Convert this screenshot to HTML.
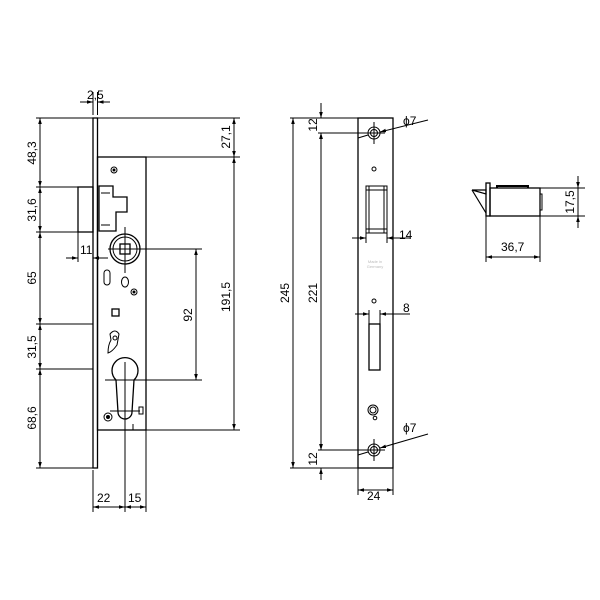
<!DOCTYPE html>
<html><head><style>body{margin:0;background:#fff}svg{display:block}</style></head><body>
<svg width="600" height="600" viewBox="0 0 600 600" xmlns="http://www.w3.org/2000/svg" font-family="Liberation Sans, sans-serif" font-size="12">
<defs>
<marker id="a" viewBox="0 0 10 10" refX="10" refY="5" markerWidth="6" markerHeight="6" orient="auto-start-reverse"><path d="M0,2 L10,5 L0,8z" fill="#000"/></marker>
</defs>
<g stroke="#000" fill="none" stroke-width="1">
<rect x="93" y="118" width="4.5" height="350" stroke-width="1.3"/>
<rect x="97.5" y="157" width="48.5" height="273" stroke-width="1.3"/>
<rect x="78" y="187" width="15" height="45" stroke-width="1.3"/>
<path d="M99,186 H113 V197 H127 V212 H116 V231 H99 Z" stroke-width="1.3"/>
<path d="M101,193 H110 M101,225 H110" />
<circle cx="114" cy="170" r="3"/><circle cx="114" cy="170" r="1" fill="#000"/>
<circle cx="125" cy="249" r="15" stroke-width="1.3"/><circle cx="125" cy="249" r="12"/>
<rect x="120" y="244" width="10" height="10" stroke-width="1.3"/>
<path d="M125,227 V273 M108,249 H202"/>
<rect x="104" y="270" width="6" height="15" rx="3"/>
<ellipse cx="125" cy="282" rx="3.5" ry="5"/>
<circle cx="134" cy="292" r="3"/><circle cx="134" cy="292" r="1" fill="#000"/>
<rect x="112" y="309" width="7" height="7" stroke-width="1.3"/>
<path d="M110,334 Q115,328 119,334 L117,345 Q112,352 108,353 Q108,345 111,340 Z"/>
<circle cx="115" cy="338" r="2"/>
<path d="M116,380 A13,13 0 1 1 134,380 L132,412 A7,7 0 0 1 118,412 Z" stroke-width="1.3"/>
<path d="M105,380 H202 M125,362 V512 M110,411 H140"/>
<rect x="139" y="407" width="4" height="7"/>
<circle cx="108" cy="417" r="4"/><circle cx="108" cy="417" r="1.5" fill="#000"/>
<path d="M133,424 V430"/>
<path d="M36,118 H240 M146,157 H240 M146,430 H240 M36,187 H93 M36,232 H93 M36,324 H93 M36,369 H93 M36,468 H93"/>
<path d="M93,115 V92 M97.5,115 V92 M93,470 V512 M146,430 V512"/>
<path d="M78,232 V262"/>
<g marker-start="url(#a)" marker-end="url(#a)">
<path d="M40,118 V187"/><path d="M40,187 V232"/><path d="M40,232 V324"/><path d="M40,324 V369"/><path d="M40,369 V468"/>
<path d="M234,118 V157"/><path d="M234,157 V430"/>
<path d="M196,249 V380"/>
<path d="M93,507 H125"/><path d="M125,507 H146"/>
</g>
<path d="M80,102 H93" marker-end="url(#a)"/><path d="M110,102 H97.5" marker-end="url(#a)"/>
<path d="M66,258 H78" marker-end="url(#a)"/><path d="M108,258 H93" marker-end="url(#a)"/>
<rect x="358" y="118" width="35" height="350" stroke-width="1.3"/>
<circle cx="374" cy="133" r="6"/><circle cx="374" cy="133" r="3.5"/>
<circle cx="374" cy="450" r="6"/><circle cx="374" cy="450" r="3.5"/>
<path d="M374,122 V144 M363,133 H385 M374,439 V461 M363,450 H385"/>
<circle cx="374" cy="169" r="2"/>
<rect x="366" y="186" width="21" height="47"/><path d="M369,186 V233 M384,186 V233 M366,190 H387 M366,229 H387"/>
<circle cx="374" cy="301" r="2"/>
<rect x="369" y="324" width="11" height="46" stroke-width="1.3"/>
<circle cx="373" cy="410" r="5"/><circle cx="373" cy="410" r="3"/><circle cx="375" cy="418" r="1.8"/>
<path d="M290,118 H358 M318,133 H374 M318,450 H374 M290,468 H358"/>
<path d="M358,468 V495 M393,468 V495 M366,233 V243 M387,233 V243 M369,310 V324 M380,310 V324"/>
<g marker-start="url(#a)" marker-end="url(#a)">
<path d="M293,118 V468"/><path d="M321,133 V450"/><path d="M358,490 H393"/>
</g>
<path d="M321,103 V118" marker-end="url(#a)"/><path d="M321,133 V145" marker-start="url(#a)"/>
<path d="M321,438 V450" marker-end="url(#a)"/><path d="M321,468 V480" marker-start="url(#a)"/>
<path d="M352,238 H366" marker-end="url(#a)"/><path d="M410,238 H387" marker-end="url(#a)"/>
<path d="M355,314 H369" marker-end="url(#a)"/><path d="M410,314 H380" marker-end="url(#a)"/>
<path d="M428,120 L380,132" marker-end="url(#a)"/><path d="M358,138 L368,135"/>
<path d="M428,434 L380,448" marker-end="url(#a)"/><path d="M358,455 L368,452"/>
<path d="M472,190 H486 V194 Z M472,190 L486,213" stroke-width="1.2"/>
<rect x="486" y="183" width="4" height="33" stroke-width="1.3"/>
<rect x="490" y="188" width="50" height="28" stroke-width="1.3"/>
<path d="M497,188 V186 H528 V188" stroke-width="2"/>
<path d="M540,194 H542 V210 H540"/>
<path d="M540,188 H585 M540,216 H585 M486,216 V262 M540,216 V262"/>
<path d="M578,176 V188" marker-end="url(#a)"/><path d="M578,228 V216" marker-end="url(#a)"/><path d="M578,188 V216"/>
<path d="M486,257 H540" marker-start="url(#a)" marker-end="url(#a)"/>
</g>
<g fill="#000" font-size="12">
<text x="87" y="99">2,5</text>
<text x="80" y="254">11</text>
<text x="97" y="502">22</text>
<text x="128" y="502">15</text>
<text x="367" y="500">24</text>
<text x="399" y="239">14</text>
<text x="403" y="312">8</text>
<text x="501" y="251">36,7</text>
<text x="403" y="125">ϕ7</text>
<text x="403" y="432">ϕ7</text>
<text transform="translate(36,153) rotate(-90)" text-anchor="middle">48,3</text>
<text transform="translate(36,210) rotate(-90)" text-anchor="middle">31,6</text>
<text transform="translate(36,278) rotate(-90)" text-anchor="middle">65</text>
<text transform="translate(36,347) rotate(-90)" text-anchor="middle">31,5</text>
<text transform="translate(36,418) rotate(-90)" text-anchor="middle">68,6</text>
<text transform="translate(230,137) rotate(-90)" text-anchor="middle">27,1</text>
<text transform="translate(230,297) rotate(-90)" text-anchor="middle">191,5</text>
<text transform="translate(192,315) rotate(-90)" text-anchor="middle">92</text>
<text transform="translate(289,293) rotate(-90)" text-anchor="middle">245</text>
<text transform="translate(317,293) rotate(-90)" text-anchor="middle">221</text>
<text transform="translate(317,125) rotate(-90)" text-anchor="middle">12</text>
<text transform="translate(317,459) rotate(-90)" text-anchor="middle">12</text>
<text transform="translate(574,202) rotate(-90)" text-anchor="middle">17,5</text>
<text x="375" y="263" font-size="4" fill="#bbb" text-anchor="middle">Made in</text>
<text x="375" y="268" font-size="4" fill="#bbb" text-anchor="middle">Germany</text>
</g>
</svg>
</body></html>
